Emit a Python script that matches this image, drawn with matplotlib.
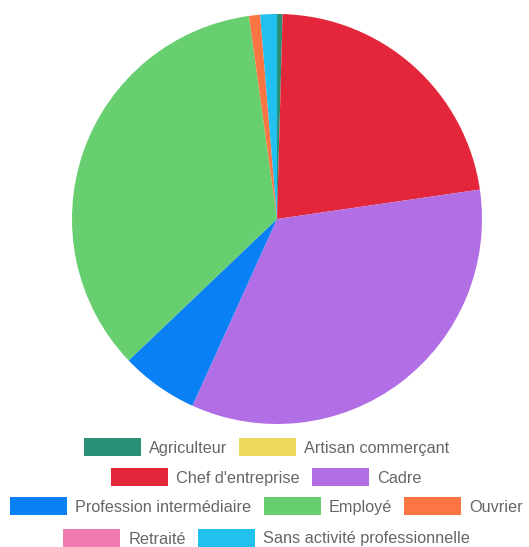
import matplotlib.pyplot as plt
from matplotlib.patches import Rectangle
from matplotlib.legend_handler import HandlerPatch

plt.rcParams['font.family'] = ['Liberation Sans', 'DejaVu Sans']

categories = ['Agriculteur', 'Artisan commerçant', "Chef d'entreprise", 'Cadre',
              'Profession intermédiaire', 'Employé', 'Ouvrier', 'Retraité',
              'Sans activité professionnelle']
values = [1, 0, 51, 78, 14, 80, 2, 0, 3]
colors = ['#2a9176', '#eed95c', '#e3263a', '#b26fe5', '#0a80f5',
          '#67cf70', '#fe7544', '#f07bb0', '#22c0ef']
legend_rows = [[0, 1], [2, 3], [4, 5, 6], [7, 8]]

W, H = 529, 547
fig = plt.figure(figsize=(W / 100, H / 100), dpi=100)

cx, cy, r = 277, 219, 205
ax = fig.add_axes([(cx - r) / W, (H - cy - r) / H, 2 * r / W, 2 * r / H])
wedges, _ = ax.pie(values, colors=colors, startangle=90, counterclock=False,
                   radius=1, wedgeprops=dict(linewidth=0))
ax.set_xlim(-1, 1)
ax.set_ylim(-1, 1)
ax.axis('off')

box_h = 18 * 72 / 100  # 18 px box, in points


def box(legend, orig_handle, xdescent, ydescent, width, height, fontsize):
    mid = height / 2 - ydescent
    return Rectangle((-xdescent, mid - box_h / 2), width, box_h)


fs = 11.7
px = fs * 100 / 72
row_y = [448.5, 478.5, 507.5, 539]
for row, y in zip(legend_rows, row_y):
    leg = fig.legend([wedges[i] for i in row], [categories[i] for i in row],
                     loc='center', bbox_to_anchor=(0.5 + 2 / W, 1 - y / H),
                     ncol=len(row), frameon=False, fontsize=fs,
                     handlelength=57 / px, handletextpad=8 / px,
                     columnspacing=12 / px, borderpad=0, borderaxespad=0,
                     handler_map={w: HandlerPatch(patch_func=box) for w in wedges})
    for t in leg.get_texts():
        t.set_color('#666666')

fig.savefig('out.png', dpi=100)
